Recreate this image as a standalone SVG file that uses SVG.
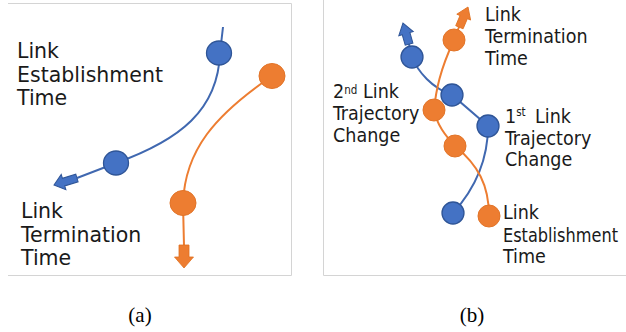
<svg xmlns="http://www.w3.org/2000/svg" width="626" height="332" viewBox="0 0 626 332">
  <style>
    .frame { fill: none; stroke: #d4d4d4; stroke-width: 1; }
    .lbl { font-family: "DejaVu Sans", "Liberation Sans", sans-serif; fill: #1a1a1a; }
    .la { font-size: 20.5px; }
    .lb { font-family: "DejaVu Sans Condensed", "DejaVu Sans", sans-serif; font-stretch: condensed; font-size: 19.5px; }
    .sup { font-size: 11.5px; }
    .cap { font-family: "Liberation Serif", "Times New Roman", serif; font-size: 21px; fill: #000; text-anchor: middle; }
    .bl { fill: none; stroke: #4068b0; stroke-width: 2; }
    .or { fill: none; stroke: #ed7d31; stroke-width: 2; }
    .bh { fill: #4472c4; stroke: #2f5597; stroke-width: 1; }
    .oh { fill: #ed7d31; stroke: #e07020; stroke-width: 0.8; }
    .bn { fill: #4472c4; stroke: #2f5597; stroke-width: 1.3; }
    .on { fill: #ed7d31; stroke: #e27428; stroke-width: 1; }
  </style>

  <!-- panel frames -->
  <g id="frames">
    <path class="frame" d="M8,3.5 H291.5 V275.5 H8"/>
    <path class="frame" d="M323.5,0 V275.5 H626"/>
  </g>

  <!-- trajectories and direction arrows -->
  <g id="connectors">
    <!-- panel a -->
    <path class="bl" d="M223,27 L220,53 C218,110 180,140 116,163 L77,178"/>
    <path class="bh" d="M0,0 L-10,-8 L-10,-4 L-24,-4 L-24,4 L-10,4 L-10,8 Z" transform="translate(54,185) rotate(163)"/>
    <path class="or" d="M272,76 C215,115 185,150 183,203 L184,246"/>
    <path class="oh" d="M0,0 L-11,-9.5 L-11,-5 L-23,-5 L-23,5 L-11,5 L-11,9.5 Z" transform="translate(184,268) rotate(90)"/>
    <!-- panel b -->
    <path class="bl" d="M409,44 L412,57 C418,72 432,88 452,95 L488,126 C488,165 472,192 453,213"/>
    <path class="bh" d="M0,0 L-11,-7.5 L-11,-4 L-22,-4 L-22,4 L-11,4 L-11,7.5 Z" transform="translate(403,23) rotate(-106)"/>
    <path class="or" d="M459,27 L454,40 C440,70 436,90 434,110 C437,125 445,135 455,146 C478,165 489,185 489,216"/>
    <path class="oh" d="M0,0 L-11,-7.5 L-11,-4 L-22,-4 L-22,4 L-11,4 L-11,7.5 Z" transform="translate(468,7) rotate(-67)"/>
  </g>

  <!-- panel a nodes -->
  <g id="a-blue-1"><ellipse class="bn" cx="219" cy="53" rx="12.5" ry="12"/></g>
  <g id="a-blue-2"><ellipse class="bn" cx="116" cy="163" rx="12.5" ry="12"/></g>
  <g id="a-orange-1"><ellipse class="on" cx="272" cy="76" rx="13" ry="12.5"/></g>
  <g id="a-orange-2"><ellipse class="on" cx="183" cy="203" rx="13" ry="12.5"/></g>

  <!-- panel b nodes -->
  <g id="b-blue-1"><circle class="bn" cx="412" cy="57" r="11"/></g>
  <g id="b-blue-2"><circle class="bn" cx="452" cy="95" r="11"/></g>
  <g id="b-blue-3"><circle class="bn" cx="488" cy="126" r="11"/></g>
  <g id="b-blue-4"><circle class="bn" cx="453" cy="213" r="11"/></g>
  <g id="b-orange-1"><circle class="on" cx="454" cy="40" r="11"/></g>
  <g id="b-orange-2"><circle class="on" cx="434" cy="110" r="11"/></g>
  <g id="b-orange-3"><circle class="on" cx="455" cy="146" r="11"/></g>
  <g id="b-orange-4"><circle class="on" cx="489" cy="216" r="11"/></g>

  <!-- labels, panel a -->
  <g id="a-label-establish">
    <text class="lbl la" x="17" y="58">Link</text>
    <text class="lbl la" x="17" y="82">Establishment</text>
    <text class="lbl la" x="17" y="105">Time</text>
  </g>
  <g id="a-label-terminate">
    <text class="lbl la" x="21" y="218">Link</text>
    <text class="lbl la" x="21" y="242">Termination</text>
    <text class="lbl la" x="21" y="265">Time</text>
  </g>

  <!-- labels, panel b -->
  <g id="b-label-terminate">
    <text class="lbl lb" x="485" y="21">Link</text>
    <text class="lbl lb" x="485" y="43">Termination</text>
    <text class="lbl lb" x="485" y="65">Time</text>
  </g>
  <g id="b-label-second">
    <text class="lbl lb" x="333" y="98">2<tspan class="sup" dy="-4">nd</tspan></text>
    <text class="lbl lb" x="363" y="98">Link</text>
    <text class="lbl lb" x="333" y="120">Trajectory</text>
    <text class="lbl lb" x="333" y="142">Change</text>
  </g>
  <g id="b-label-first">
    <text class="lbl lb" x="505" y="123">1<tspan class="sup" dy="-7">st</tspan></text>
    <text class="lbl lb" x="535" y="123">Link</text>
    <text class="lbl lb" x="505" y="145">Trajectory</text>
    <text class="lbl lb" x="505" y="166">Change</text>
  </g>
  <g id="b-label-establish">
    <text class="lbl lb" x="503" y="219">Link</text>
    <text class="lbl lb" x="503" y="242" textLength="115" lengthAdjust="spacingAndGlyphs">Establishment</text>
    <text class="lbl lb" x="503" y="263">Time</text>
  </g>

  <!-- captions -->
  <g id="captions">
    <text class="cap" x="140" y="322">(a)</text>
    <text class="cap" x="472" y="322">(b)</text>
  </g>
</svg>
